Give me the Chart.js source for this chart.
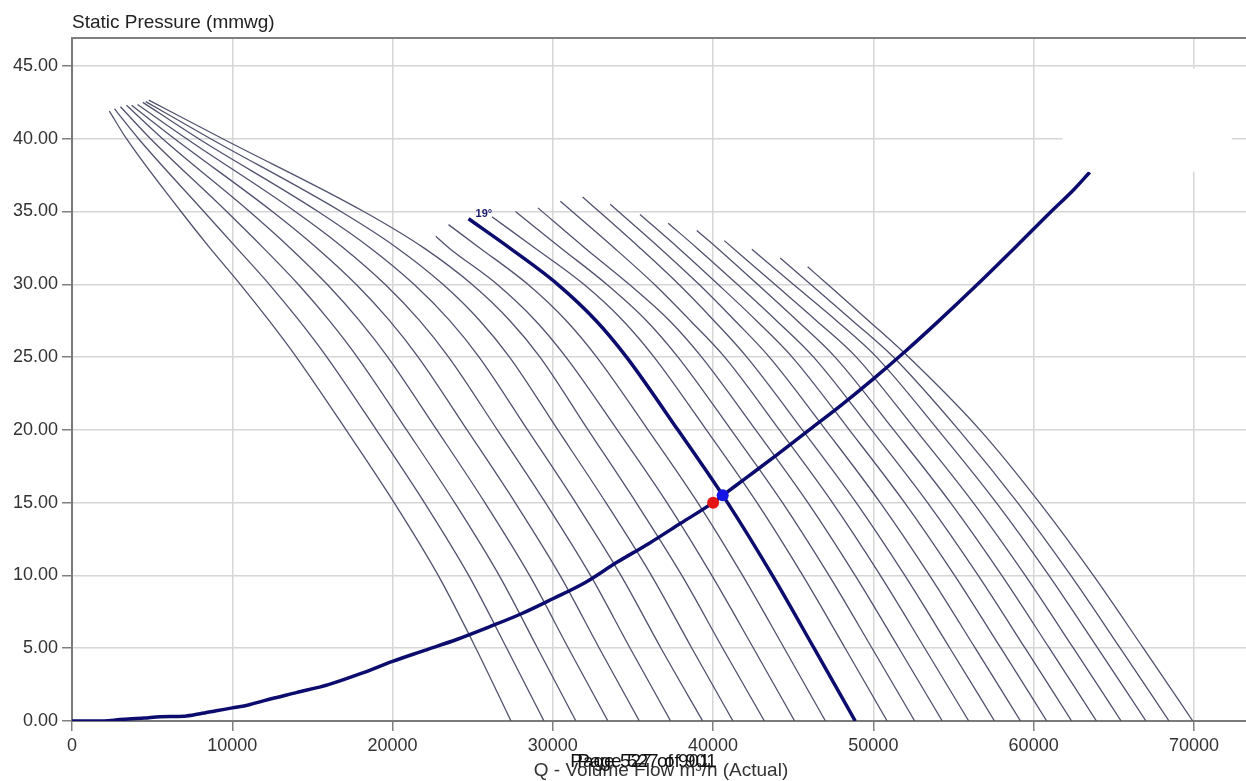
<!DOCTYPE html>
<html>
<head>
<meta charset="utf-8">
<title>Fan curves</title>
<script src="https://cdn.jsdelivr.net/npm/chart.js@4.4.1/dist/chart.umd.min.js"></script>
<style>
body { margin: 0; background: #fff; }
canvas { display: block; }
</style>
</head>
<body>
<canvas id="fanChart" width="1246" height="781"></canvas>
<script>
const xTicks = [0, 10000, 20000, 30000, 40000, 50000, 60000, 70000];
const yTicks = [0, 5, 10, 15, 20, 25, 30, 35, 40, 45];

// low blade angles, all starting near the top left corner  [Q, Ps]
const curveL1 = [[2330, 41.9], [3400, 40], [6800, 35], [8600, 32.5], [10500, 30], [12300, 27.5], [14000, 25], [17100, 20], [20100, 15], [22850, 10], [25200, 5], [27390, 0]];
const curveL2 = [[2650, 42.05], [4150, 40], [8225, 35], [10269, 32.5], [12306, 30], [14178, 27.5], [15900, 25], [18988, 20], [21988, 15], [24750, 10], [27125, 5], [29450, 0]];
const curveL3 = [[3020, 42.2], [4900, 40], [9650, 35], [11938, 32.5], [14113, 30], [16056, 27.5], [17800, 25], [20875, 20], [23875, 15], [26650, 10], [29050, 5], [31440, 0]];
const curveL4 = [[3400, 42.3], [5650, 40], [11075, 35], [13606, 32.5], [15919, 30], [17934, 27.5], [19700, 25], [22763, 20], [25763, 15], [28550, 10], [30975, 5], [33440, 0]];
const curveL5 = [[3720, 42.3], [6400, 40], [12500, 35], [15275, 32.5], [17725, 30], [19813, 27.5], [21600, 25], [24650, 20], [27650, 15], [30450, 10], [32900, 5], [35400, 0]];
const curveL6 = [[4090, 42.35], [7150, 40], [13925, 35], [16944, 32.5], [19531, 30], [21691, 27.5], [23500, 25], [26538, 20], [29538, 15], [32350, 10], [34825, 5], [37350, 0]];
const curveL7 = [[4420, 42.5], [7900, 40], [15350, 35], [18613, 32.5], [21338, 30], [23569, 27.5], [25400, 25], [28425, 20], [31425, 15], [34250, 10], [36750, 5], [39350, 0]];
const curveL8 = [[4600, 42.55], [8650, 40], [16775, 35], [20281, 32.5], [23144, 30], [25447, 27.5], [27300, 25], [30313, 20], [33313, 15], [36150, 10], [38675, 5], [41240, 0]];
const curveL9 = [[4790, 42.65], [9400, 40], [18200, 35], [21950, 32.5], [24950, 30], [27325, 27.5], [29200, 25], [32200, 20], [35200, 15], [38050, 10], [40600, 5], [43200, 0]];

// higher blade angles
const curveR1 = [[22700, 33.3], [23520, 32.5], [26520, 30], [28920, 27.5], [30820, 25], [34020, 20], [37120, 15], [39920, 10], [42520, 5], [45090, 0]];
const curveR2 = [[23490, 34.1], [25440, 32.5], [28440, 30], [30840, 27.5], [32740, 25], [35940, 20], [39040, 15], [41840, 10], [44440, 5], [47010, 0]];
const curve19 = [[24740, 34.5], [27300, 32.5], [30300, 30], [32700, 27.5], [34600, 25], [37800, 20], [40900, 15], [43700, 10], [46300, 5], [48870, 0]];
const curveR4 = [[26200, 34.64], [28880, 32.5], [31937, 30], [34383, 27.5], [36319, 25], [39580, 20], [42739, 15], [45592, 10], [48241, 5], [50860, 0]];
const curveR5 = [[27670, 35.0], [30500, 32.5], [33360, 30], [35844, 27.5], [37811, 25], [41123, 20], [44331, 15], [47229, 10], [49920, 5], [52580, 0]];
const curveR6 = [[29070, 35.25], [32000, 32.5], [34764, 30], [37289, 27.5], [39288, 25], [42654, 20], [45916, 15], [48861, 10], [51596, 5], [54300, 0]];
const curveR7 = [[30470, 35.7], [33830, 32.5], [36330, 30], [38580, 27.5], [40724, 25], [44138, 20], [47446, 15], [50434, 10], [53208, 5], [55950, 0]];
const curveR8 = [[31860, 36.0], [35430, 32.5], [37855, 30], [40055, 27.5], [42106, 25], [45571, 20], [48928, 15], [51961, 10], [54777, 5], [57560, 0]];
const curveR9 = [[33580, 35.5], [36670, 32.5], [39120, 30], [41370, 27.5], [43512, 25], [47025, 20], [50429, 15], [53503, 10], [56358, 5], [59180, 0]];
const curveR10 = [[35440, 34.8], [37832, 32.5], [40307, 30], [42707, 27.5], [44937, 25], [48499, 20], [51949, 15], [55066, 10], [57960, 5], [60820, 0]];
const curveR11 = [[37200, 34.2], [38985, 32.5], [41510, 30], [43960, 27.5], [46273, 25], [49883, 20], [53380, 15], [56538, 10], [59471, 5], [62370, 0]];
const curveR12 = [[38980, 33.7], [40252, 32.5], [42777, 30], [45252, 27.5], [47609, 25], [51267, 20], [54810, 15], [58011, 10], [60982, 5], [63920, 0]];
const curveR13 = [[40700, 33.0], [43850, 30], [46450, 27.5], [48935, 25], [52641, 20], [56231, 15], [59473, 10], [62484, 5], [65460, 0]];
const curveR14 = [[42420, 32.4], [45000, 30], [47700, 27.5], [50200, 25], [54036, 20], [57669, 15], [60951, 10], [63998, 5], [67010, 0]];
const curveR15 = [[44190, 31.8], [46080, 30], [48700, 27.5], [51250, 25], [55321, 20], [58998, 15], [62318, 10], [65402, 5], [68450, 0]];
const curveR16 = [[45900, 31.2], [47140, 30], [49700, 27.5], [52200, 25], [56646, 20], [60366, 15], [63726, 10], [66846, 5], [69930, 0]];

const systemCurve = [[0, 0], [2000, 0], [3000, 0.1], [4500, 0.2], [5500, 0.3], [7000, 0.33], [8000, 0.5], [9000, 0.7],
    [10000, 0.9], [11000, 1.1], [12000, 1.4], [14000, 1.95], [16000, 2.5], [18000, 3.25], [20000, 4.1], [22000, 4.85],
    [24000, 5.6], [26000, 6.45], [28000, 7.35], [30000, 8.4], [32000, 9.5], [34000, 10.9], [36000, 12.2], [38000, 13.6],
    [40000, 15.0], [40600, 15.5], [42000, 16.65], [44000, 18.3], [46000, 20.0], [48000, 21.7], [50000, 23.5],
    [52000, 25.4], [54000, 27.4], [56500, 30], [59000, 32.7], [61000, 34.9], [62500, 36.5], [63500, 37.7]];

const dutyPoint = [40000, 15.0];
const operatingPoint = [40600, 15.5];

const angleLabel = "19°";
const yTitle = "Static Pressure (mmwg)";
const xTitle = "Q - Volume Flow m³/h (Actual)";
const pageText = "Page 527 of 901";

const thinCurves = [curveL1, curveL2, curveL3, curveL4, curveL5, curveL6, curveL7, curveL8, curveL9,
    curveR1, curveR2, curveR4, curveR5, curveR6, curveR7, curveR8, curveR9, curveR10,
    curveR11, curveR12, curveR13, curveR14, curveR15, curveR16];

function pts(arr) {
    return arr.map(function(p) { return { x: p[0], y: p[1] }; });
}

var extras = {
    id: 'extras',
    afterDatasetsDraw: function(chart) {
        var ctx = chart.ctx;
        var xs = chart.scales.x, ys = chart.scales.y, area = chart.chartArea;
        ctx.save();
        // white patch in the top right corner of the original
        var bx = xs.getPixelForValue(61800), bx2 = xs.getPixelForValue(72360);
        var by = ys.getPixelForValue(44.8), by2 = ys.getPixelForValue(37.73);
        ctx.fillStyle = '#ffffff';
        ctx.fillRect(bx, by, bx2 - bx, by2 - by);

        ctx.strokeStyle = '#808080';
        ctx.lineWidth = 2;
        ctx.beginPath();
        ctx.moveTo(area.left, area.top);
        ctx.lineTo(area.right, area.top);
        ctx.stroke();

        // angle label at the start of the selected curve
        ctx.fillStyle = '#1a1a6e';
        ctx.font = 'bold 11px "Liberation Sans", Arial, sans-serif';
        ctx.textBaseline = 'alphabetic';
        ctx.fillText(angleLabel, xs.getPixelForValue(curve19[0][0]) + 7, ys.getPixelForValue(curve19[0][1]) - 2);
        ctx.restore();
    },
    afterDraw: function(chart) {
        var ctx = chart.ctx, area = chart.chartArea;
        ctx.save();
        ctx.fillStyle = '#222222';
        ctx.font = '19px "Liberation Sans", Arial, sans-serif';
        ctx.textBaseline = 'alphabetic';
        ctx.textAlign = 'left';
        ctx.fillText(yTitle, area.left, 28);

        var cx = (area.left + area.right) / 2;
        ctx.textAlign = 'center';
        ctx.fillStyle = '#333333';
        ctx.fillText(xTitle, cx + 2, 776);
        ctx.fillStyle = '#111111';
        ctx.fillText(pageText, cx - 19, 767);
        ctx.fillText(pageText, cx - 12, 767);
        ctx.restore();
    }
};

window.onload = function() {
    var datasets = [];
    datasets.push({
        data: pts([operatingPoint]),
        pointRadius: 6, pointBackgroundColor: '#1515e6', pointBorderWidth: 0, showLine: false
    });
    datasets.push({
        data: pts([dutyPoint]),
        pointRadius: 6, pointBackgroundColor: '#e61515', pointBorderWidth: 0, showLine: false
    });
    datasets.push({
        data: pts(systemCurve),
        borderColor: '#0c0c6e', borderWidth: 3.5, showLine: true, pointRadius: 0,
        cubicInterpolationMode: 'monotone'
    });
    datasets.push({
        data: pts(curve19),
        borderColor: '#0c0c6e', borderWidth: 3.5, showLine: true, pointRadius: 0,
        cubicInterpolationMode: 'monotone'
    });
    for (var i = 0; i < thinCurves.length; i++) {
        datasets.push({
            data: pts(thinCurves[i]),
            borderColor: '#50526e', borderWidth: 1.3, showLine: true, pointRadius: 0,
            cubicInterpolationMode: 'monotone'
        });
    }

    var ctx = document.getElementById('fanChart').getContext('2d');
    new Chart(ctx, {
        type: 'scatter',
        data: { datasets: datasets },
        options: {
            responsive: false,
            animation: false,
            layout: { autoPadding: false, padding: { top: 38, right: 0, bottom: 0, left: 0 } },
            plugins: { legend: { display: false }, tooltip: { enabled: false } },
            scales: {
                x: {
                    type: 'linear', min: 0, max: 73250,
                    afterBuildTicks: function(scale) { scale.ticks = xTicks.map(function(v) { return { value: v }; }); },
                    afterFit: function(scale) { scale.height = 60; },
                    grid: { color: '#d6d6d6', lineWidth: 1.5, tickLength: 10, tickColor: '#808080' },
                    border: { color: '#7a7a7a', width: 2 },
                    ticks: {
                        padding: 4, maxRotation: 0, color: '#333333',
                        font: { family: '"Liberation Sans", Arial, sans-serif', size: 18 },
                        callback: function(v) { return String(v); }
                    }
                },
                y: {
                    type: 'linear', min: 0, max: 46.92,
                    afterBuildTicks: function(scale) { scale.ticks = yTicks.map(function(v) { return { value: v }; }); },
                    afterFit: function(scale) { scale.width = 72; },
                    grid: { color: '#d6d6d6', lineWidth: 1.5, tickLength: 10, tickColor: '#808080' },
                    border: { color: '#7a7a7a', width: 2 },
                    ticks: {
                        padding: 4, color: '#333333',
                        font: { family: '"Liberation Sans", Arial, sans-serif', size: 18 },
                        callback: function(v) { return Number(v).toFixed(2); }
                    }
                }
            }
        },
        plugins: [extras]
    });
};
</script>
</body>
</html>
